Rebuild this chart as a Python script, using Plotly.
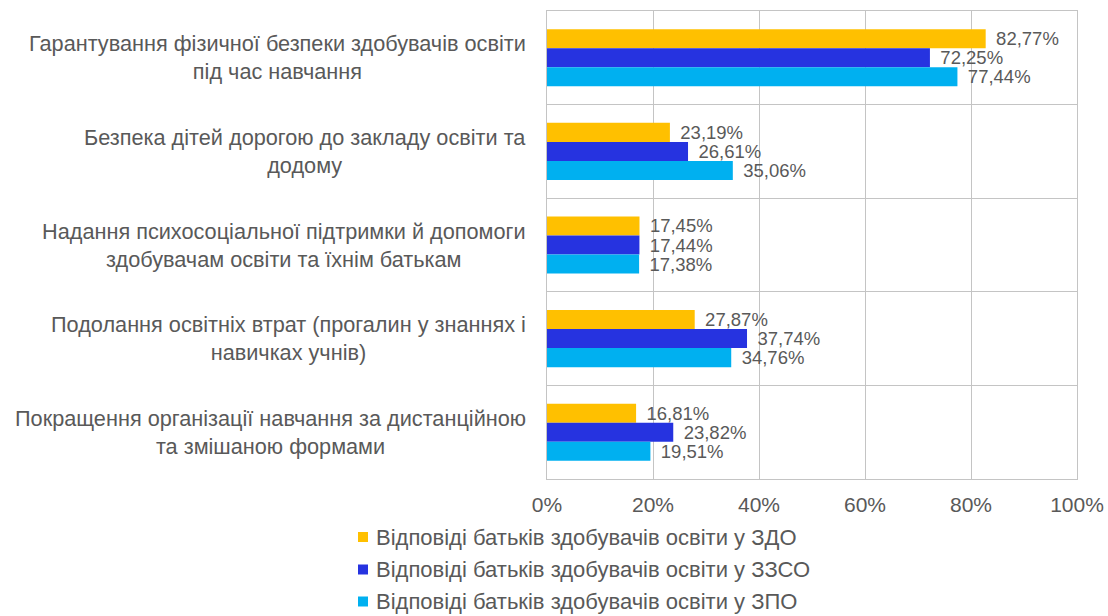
import plotly.graph_objects as go

# Categories (top to bottom) and survey shares, %
categories = [
    "Гарантування фізичної безпеки здобувачів освіти<br>під час навчання",
    "Безпека дітей дорогою до закладу освіти та<br>додому",
    "Надання психосоціальної підтримки й допомоги<br>здобувачам освіти та їхнім батькам",
    "Подолання освітніх втрат (прогалин у знаннях і<br>навичках учнів)",
    "Покращення організації навчання за дистанційною<br>та змішаною формами",
]
series_names = [
    "Відповіді батьків здобувачів освіти у ЗДО",
    "Відповіді батьків здобувачів освіти у ЗЗСО",
    "Відповіді батьків здобувачів освіти у ЗПО",
]
zdo = [82.77, 23.19, 17.45, 27.87, 16.81]
zzso = [72.25, 26.61, 17.44, 37.74, 23.82]
zpo = [77.44, 35.06, 17.38, 34.76, 19.51]
x_ticks = [0, 20, 40, 60, 80, 100]
x_tick_labels = ["0%", "20%", "40%", "60%", "80%", "100%"]

colors = ["#FFC000", "#2633E0", "#00B0F0"]
TEXT = "#595959"
GRID = "#C4C4C4"
FONT = "Liberation Sans, Arial, sans-serif"

W, H = 1108, 616
ML, MR, MT, MB = 547, 31, 11, 137
PW, PH = W - ML - MR, H - MT - MB

positions = list(range(len(categories)))


def fmt(v):
    return "\u2009\u2009" + f"{v:.2f}".replace(".", ",") + "%"


def px_x(px):
    return (px - ML) / PW


def px_y(py):
    return (H - MB - py) / PH


fig = go.Figure()
for name, vals, col in zip(series_names, [zdo, zzso, zpo], colors):
    fig.add_trace(go.Bar(
        y=positions, x=vals, orientation="h", name=name,
        marker=dict(color=col, line=dict(width=0)),
        text=[fmt(v) for v in vals], textposition="outside",
        constraintext="none", cliponaxis=False,
        textfont=dict(color=TEXT, size=18.5, family=FONT),
        showlegend=False,
    ))

# Category labels: right-aligned block, centred lines
for i, cat in enumerate(categories):
    fig.add_annotation(
        x=px_x(528), xref="paper", y=i, yref="y",
        text=cat, showarrow=False, xanchor="right", yanchor="middle",
        align="center", font=dict(color=TEXT, size=21.7, family=FONT),
    )

# Legend below the chart: square swatch + series name per row
legend_rows = [537, 569.5, 601.5]
for name, col, row in zip(series_names, colors, legend_rows):
    fig.add_shape(
        type="rect", xref="paper", yref="paper",
        x0=px_x(358), x1=px_x(368), y0=px_y(row + 5), y1=px_y(row - 5),
        fillcolor=col, line=dict(width=0),
    )
    fig.add_annotation(
        x=px_x(374), xref="paper", y=px_y(row), yref="paper",
        text=name, showarrow=False, xanchor="left", yanchor="middle",
        font=dict(color=TEXT, size=22, family=FONT),
    )

fig.update_layout(
    width=W, height=H,
    margin=dict(l=ML, r=MR, t=MT, b=MB, autoexpand=False),
    paper_bgcolor="white", plot_bgcolor="white",
    barmode="group", bargap=0.39, bargroupgap=0,
    font=dict(family=FONT, color=TEXT),
    showlegend=False,
)
fig.update_xaxes(
    range=[0, 100], tickvals=x_ticks, ticktext=x_tick_labels,
    showgrid=True, gridcolor=GRID, gridwidth=1,
    showline=True, linecolor=GRID, linewidth=1, mirror=True,
    zeroline=False, ticks="", ticklabelstandoff=7, automargin=False,
    tickfont=dict(size=21, color=TEXT, family=FONT),
)
fig.update_yaxes(
    range=[len(categories) - 0.5, -0.5],
    tickvals=[i + 0.5 for i in range(len(categories) - 1)],
    showticklabels=False, showgrid=True, gridcolor=GRID, gridwidth=1,
    showline=True, linecolor=GRID, linewidth=1, mirror=True,
    zeroline=False, ticks="", automargin=False,
)

fig.write_html("out.html")
